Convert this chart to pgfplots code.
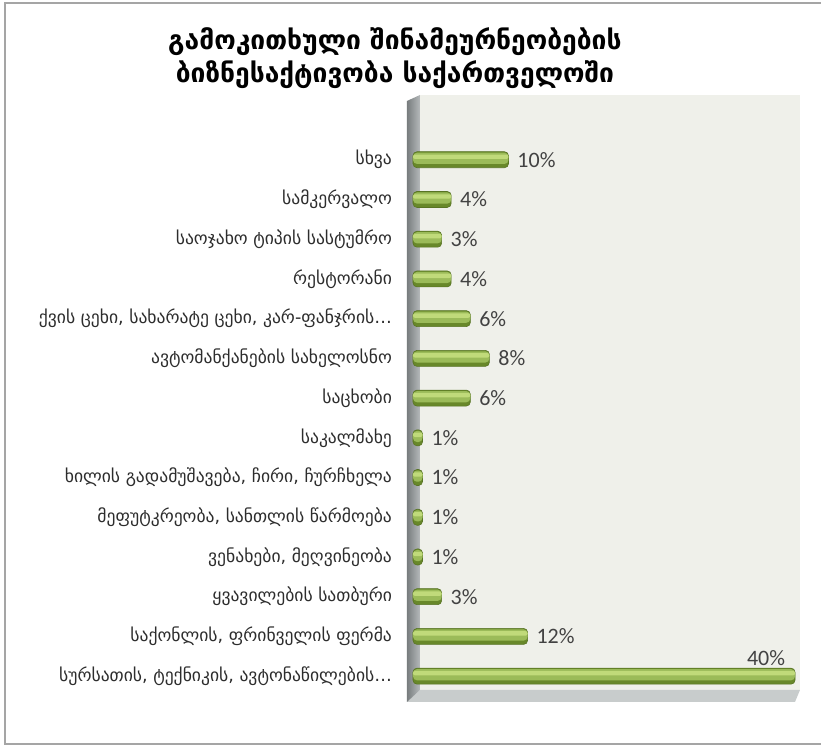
\documentclass[border=0pt]{standalone}
\usepackage{pgfplots}
\usepackage{pgfplotstable}
\pgfplotsset{compat=1.18}
\usepackage{fontspec}
\setmainfont{DejaVu Sans}
\newfontfamily\numfont{Carlito}
\definecolor{barmid}{RGB}{155,187,89}
\definecolor{barlight}{RGB}{192,218,122}
\definecolor{bardark}{RGB}{104,136,42}
\definecolor{backwall}{RGB}{239,240,234}
\definecolor{sidewall}{RGB}{150,156,158}
\definecolor{floorc}{RGB}{200,204,204}
\definecolor{framec}{RGB}{165,165,165}
\definecolor{txt}{RGB}{45,45,45}
\pgfplotstableread{
idx val
1 12
2 3
3 1
4 1
5 1
6 1
7 6
8 8
9 6
10 4
11 3
12 4
13 10
}\smallbars
\pgfplotstableread{
idx val
0 40
}\bigbar
\begin{document}
\begin{tikzpicture}
\begin{scope}[shift={(-206.5pt,350pt)}, x=0.5pt, y=-0.5pt]
  \draw[framec, line width=1.2pt] (5,3) rectangle (840,744);
  \fill[backwall] (420,95) rectangle (800,690);
  \fill[floorc] (420,690) -- (800,690) -- (795,702) -- (407,702) -- cycle;
  \shade[left color=sidewall!80!black, right color=sidewall!70!white] (407,101) -- (420,95) -- (420,690) -- (407,702) -- cycle;
  \node[align=center, font=\bfseries\fontsize{13.2}{16.5}\selectfont, text=black] at (395,58)
    {გამოკითხული შინამეურნეობების\\ბიზნესაქტივობა საქართველოში};
\end{scope}
\begin{axis}[
  at={(0,0)}, anchor=south west,
  scale only axis, width=193.5pt, height=302.5pt,
  xmin=0, xmax=40.52, ymin=-0.6, ymax=14.63,
  hide x axis,
  axis y line*=left,
  y axis line style={draw=none},
  major tick length=0pt,
  clip=false,
  /pgf/number format/assume math mode=true,
  ytick={0,1,2,3,4,5,6,7,8,9,10,11,12,13},
  yticklabels={{სურსათის, ტექნიკის, ავტონაწილების…},
    {საქონლის, ფრინველის ფერმა},
    {ყვავილების სათბური},
    {ვენახები, მეღვინეობა},
    {მეფუტკრეობა, სანთლის წარმოება},
    {ხილის გადამუშავება, ჩირი, ჩურჩხელა},
    {საკალმახე},
    {საცხობი},
    {ავტომანქანების სახელოსნო},
    {ქვის ცეხი, სახარატე ცეხი, კარ-ფანჯრის…},
    {რესტორანი},
    {საოჯახო ტიპის სასტუმრო},
    {სამკერვალო},
    {სხვა}},
  yticklabel style={font=\fontsize{8.8}{9.5}\selectfont, text=txt, anchor=east, xshift=-7pt},
  point meta=x,
  base/.style={xbar, bar width=8pt, bar shift=0pt, fill=bardark, draw=bardark!85!black, line width=0.3pt, rounded corners=2pt},
  mid/.style={xbar, bar width=5.6pt, bar shift=0.7pt, fill=barmid, draw=none, rounded corners=2pt},
  hi/.style={xbar, bar width=2.2pt, bar shift=1.5pt, fill=barlight, draw=none, rounded corners=1pt},
  lbl/.style={nodes near coords={\pgfmathprintnumber{\pgfplotspointmeta}\%},
    every node near coord/.append style={font=\numfont\fontsize{11}{13}\selectfont, text=txt!90}},
]
\addplot[base, lbl, every node near coord/.append style={anchor=west, xshift=1pt}] table[x=val, y=idx] {\smallbars};
\addplot[mid] table[x=val, y=idx] {\smallbars};
\addplot[hi] table[x=val, y=idx] {\smallbars};
\addplot[base, lbl, every node near coord/.append style={anchor=south east, xshift=-1.5pt, yshift=2pt}] table[x=val, y=idx] {\bigbar};
\addplot[mid] table[x=val, y=idx] {\bigbar};
\addplot[hi] table[x=val, y=idx] {\bigbar};
\end{axis}
\pgfresetboundingbox
\useasboundingbox (-206.5pt,350pt) rectangle (204pt,-23.5pt);
\end{tikzpicture}
\end{document}
